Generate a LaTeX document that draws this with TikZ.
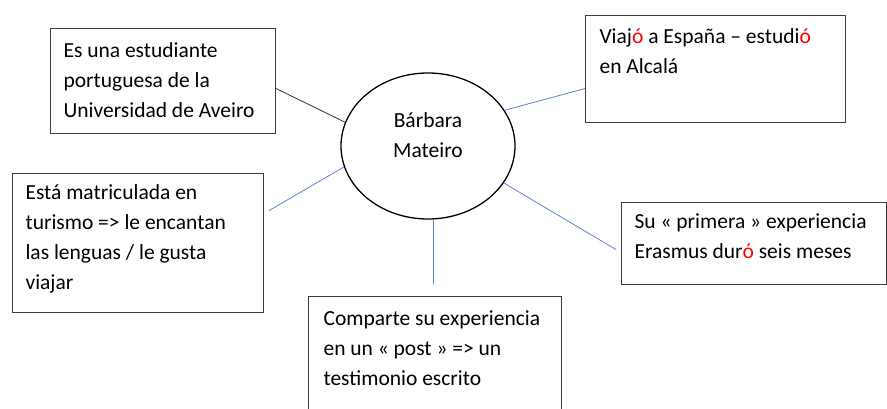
\documentclass[tikz,border=0pt]{standalone}
\usepackage{fontspec}
\setmainfont{Carlito}
\usepackage{tikz}
\usetikzlibrary{shapes.geometric}

\definecolor{lienazul}{RGB}{90,130,210}
\definecolor{borde}{RGB}{60,60,60}
\newcommand{\rojo}[1]{\textcolor{red}{#1}}

\begin{document}
\begin{tikzpicture}[x=1pt,y=-1pt,
  caja/.style={draw=borde, line width=1.1pt, anchor=north west, inner ysep=0pt, align=flush left, font=\fontsize{21.5}{30}\selectfont},
  azul/.style={draw=lienazul, line width=0.8pt},
  negro/.style={draw=black!80, line width=0.8pt}]

\useasboundingbox (0,0) rectangle (887,409);

\node [draw, ellipse, line width=1.3pt, minimum width=174pt, minimum height=146pt, inner sep=0pt, align=flush center, text width=100pt, text height=15pt, text depth=51pt, font=\fontsize{21.5}{30}\selectfont] (persona) at (428,146) {Bárbara\\Mateiro};

\node [caja, inner xsep=13pt, text width=199pt, text height=29pt, text depth=76pt] (b1) at (50,28) {Es una estudiante\\portuguesa de la\\Universidad de Aveiro};
\node [caja, inner xsep=14pt, text width=232pt, text height=28pt, text depth=79pt] (b2) at (585,15) {Viaj\rojo{ó} a España – estudi\rojo{ó}\\en Alcalá};
\node [caja, inner xsep=13pt, text width=225pt, text height=26pt, text depth=113pt] (b3) at (12,173) {Está matriculada en\\turismo => le encantan\\las lenguas / le gusta\\viajar};
\node [caja, inner xsep=15pt, text width=223pt, text height=29pt, text depth=115pt] (b4) at (308,296) {Comparte su experiencia\\en un « post » => un\\testimonio escrito};
\node [caja, inner xsep=13pt, text width=239pt, text height=26pt, text depth=56pt] (b5) at (621,202) {Su « primera » experiencia\\Erasmus dur\rojo{ó} seis meses};

\coordinate (f3) at ([xshift=5pt,yshift=32.5pt]b3.east);
\coordinate (f4) at ([xshift=-1.5pt,yshift=12pt]b4.north);
\coordinate (f5) at ([xshift=-5pt,yshift=-6pt]b5.west);

\draw [negro] ([yshift=-7.5pt]b1.east) -- (persona.164);
\draw [azul] ([yshift=-19.5pt]b2.west) -- (persona.25);
\draw [azul] (f3) -- (persona.194);
\draw [azul] (f4) -- (f4 |- persona.south);
\draw [azul] (persona.334) -- (f5);

\end{tikzpicture}
\end{document}
